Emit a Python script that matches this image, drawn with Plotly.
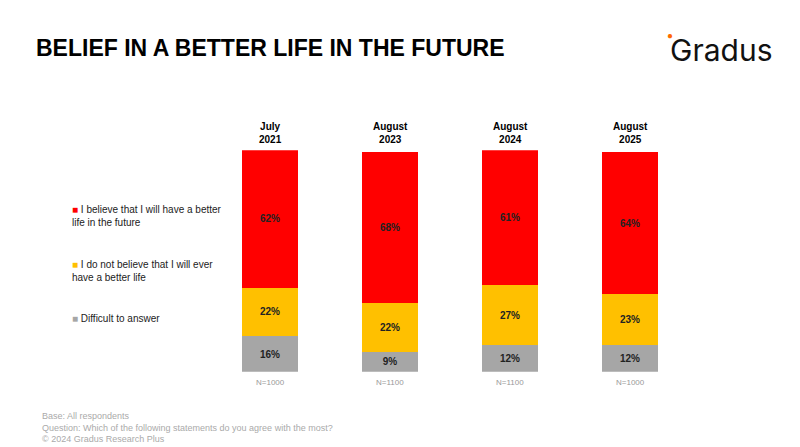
import plotly.graph_objects as go

periods = ["July<br>2021", "August<br>2023", "August<br>2024", "August<br>2025"]
better = [62, 68, 61, 64]
never = [22, 22, 27, 23]
difficult = [16, 9, 12, 12]
sample = ["N=1000", "N=1100", "N=1100", "N=1000"]
legend_labels = ["I believe that I will have a better<br>life in the future",
                 "I do not believe that I will ever<br>have a better life",
                 "Difficult to answer"]
colors = ["#FF0000", "#FFC000", "#A6A6A6"]

fig = go.Figure()
for vals, col in [(difficult, colors[2]), (never, colors[1]), (better, colors[0])]:
    fig.add_bar(x=periods, y=vals, marker_color=col, marker_line_width=0,
                text=[f"<b>{v}%</b>" for v in vals], textposition="inside",
                insidetextanchor="middle", textfont=dict(color="#222", size=10),
                showlegend=False)

for p, s in zip(periods, sample):
    fig.add_annotation(x=p, y=100, text=f"<b>{p}</b>", yanchor="bottom", yshift=3,
                       showarrow=False, font=dict(size=10, color="#000"))
    fig.add_annotation(x=p, y=0, text=s, yanchor="top", yshift=-4,
                       showarrow=False, font=dict(size=8, color="#999"))

for lab, col, y in zip(legend_labels, colors, [0.565, 0.444, 0.323]):
    fig.add_annotation(xref="paper", yref="paper", x=0.078, y=y, xanchor="left", yanchor="top",
                       align="left", showarrow=False,
                       text=f"<span style='color:{col}'>■</span> {lab}",
                       font=dict(size=10, color="#222"))

fig.add_annotation(xref="paper", yref="paper", x=0.032, y=0.91, xanchor="left", yanchor="middle",
                   text="<b>BELIEF IN A BETTER LIFE IN THE FUTURE</b>", showarrow=False,
                   font=dict(size=23, color="#000", family="Liberation Sans"))
fig.add_annotation(xref="paper", yref="paper", x=0.958, y=0.905, xanchor="right", yanchor="middle",
                   text="Gradus", showarrow=False,
                   font=dict(size=30, color="#111", family="Inter"))
fig.add_annotation(xref="paper", yref="paper", x=0.827, y=0.938, xanchor="center", yanchor="middle",
                   text="<span style='color:#FF6A00'>●</span>", showarrow=False, font=dict(size=10))
fig.add_annotation(xref="paper", yref="paper", x=0.04, y=0.02, xanchor="left", yanchor="bottom",
                   align="left", showarrow=False,
                   text="Base: All respondents<br>Question: Which of the following statements do you agree with the most?<br>© 2024 Gradus Research Plus",
                   font=dict(size=9, color="#aaa"))

fig.update_layout(
    width=800, height=447, barmode="stack", bargap=0.533,
    plot_bgcolor="white", paper_bgcolor="white",
    margin=dict(l=0, r=0, t=0, b=0),
    font=dict(family="Liberation Sans"),
    xaxis=dict(domain=[0.2525, 0.8525], showticklabels=False, showgrid=False, zeroline=False),
    yaxis=dict(domain=[0.186, 0.682], range=[0, 100], visible=False),
)
fig.write_html("out.html")
